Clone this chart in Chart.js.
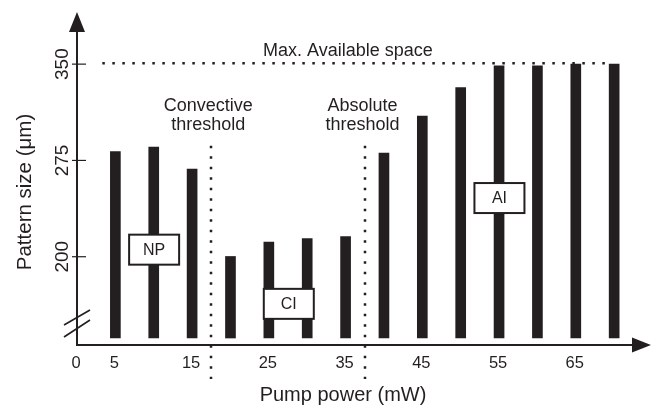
<!DOCTYPE html>
<html>
<head>
<meta charset="utf-8">
<script src="https://cdn.jsdelivr.net/npm/chart.js@4.4.1/dist/chart.umd.min.js"></script>
<style>
  html, body { margin: 0; padding: 0; background: #fff; }
  #wrap { width: 657px; height: 405px; position: relative; }
</style>
</head>
<body>
<div id="wrap"><canvas id="chart"></canvas></div>
<script>
// pump power (mW) and measured pattern size (um)
const powers = [5, 10, 15, 20, 25, 30, 35, 40, 45, 50, 55, 60, 65, 70]
const sizes = [281.8, 285.4, 268.2, 200.2, 211.5, 214.1, 215.6, 280.7, 309.6, 331.8, 348.7, 348.7, 350, 350]
const barBase = 136.7

const xTicks = [0, 5, 15, 25, 35, 45, 55, 65]
const yTicks = [200, 275, 350]
const maxSpace = 350
const thresholds = [17.5, 37.5]

const regionLabels = ['NP', 'CI', 'AI']
const regionX = [10.05, 27.6, 55.05]
const regionY = [205.5, 163.3, 245.7]

const ink = '#231f20'
const font = '"Liberation Sans", Arial, Helvetica, sans-serif'

const axesPlugin = {
  id: 'axesPlugin',
  afterDraw(chart) {
    const ctx = chart.ctx
    const xs = chart.scales.x
    const ys = chart.scales.y
    const area = chart.chartArea
    const x0 = xs.getPixelForValue(0)
    const yb = area.bottom

    ctx.save()
    ctx.strokeStyle = ink
    ctx.fillStyle = ink

    // dotted lines
    ctx.lineWidth = 2.5
    ctx.setLineDash([2.5, 7.5])
    ctx.beginPath()
    ctx.moveTo(xs.getPixelForValue(3.3), ys.getPixelForValue(maxSpace) - 1)
    ctx.lineTo(xs.getPixelForValue(69.3), ys.getPixelForValue(maxSpace) - 1)
    ctx.stroke()
    ctx.setLineDash([2.5, 8])
    thresholds.forEach(t => {
      const px = Math.round(xs.getPixelForValue(t))
      ctx.beginPath()
      ctx.moveTo(px, ys.getPixelForValue(286.5))
      ctx.lineTo(px, yb + 34)
      ctx.stroke()
    })
    ctx.setLineDash([])

    // axes
    ctx.lineWidth = 2
    ctx.beginPath()
    ctx.moveTo(x0, yb)
    ctx.lineTo(x0, area.top + 16)
    ctx.moveTo(x0 - 1, yb)
    ctx.lineTo(area.right - 16, yb)
    ctx.stroke()
    // arrow heads
    ctx.beginPath()
    ctx.moveTo(x0, area.top)
    ctx.lineTo(x0 - 8, area.top + 20)
    ctx.lineTo(x0 + 8, area.top + 20)
    ctx.closePath()
    ctx.fill()
    ctx.beginPath()
    ctx.moveTo(area.right, yb)
    ctx.lineTo(area.right - 19, yb - 7.5)
    ctx.lineTo(area.right - 19, yb + 7.5)
    ctx.closePath()
    ctx.fill()

    // axis break
    ctx.lineWidth = 1.6
    ctx.beginPath()
    ctx.moveTo(x0 - 13, yb - 20)
    ctx.lineTo(x0 + 13, yb - 35)
    ctx.moveTo(x0 - 13, yb - 8)
    ctx.lineTo(x0 + 13, yb - 25)
    ctx.stroke()

    // y ticks
    ctx.lineWidth = 1.2
    ctx.font = '19px ' + font
    ctx.textAlign = 'center'
    ctx.textBaseline = 'middle'
    yTicks.forEach(v => {
      const py = ys.getPixelForValue(v)
      ctx.beginPath()
      ctx.moveTo(x0 - 5, py)
      ctx.lineTo(x0 + 9, py)
      ctx.stroke()
      ctx.save()
      ctx.translate(x0 - 14, py)
      ctx.rotate(-Math.PI / 2)
      ctx.fillText(String(v), 0, 0)
      ctx.restore()
    })

    // x tick labels
    ctx.font = '16.5px ' + font
    xTicks.forEach(v => {
      ctx.fillText(String(v), xs.getPixelForValue(v) - 1, yb + 18)
    })

    // axis titles
    ctx.font = '20px ' + font
    ctx.fillText('Pump power (mW)', 343, yb + 50)
    ctx.save()
    ctx.translate(25, 192)
    ctx.rotate(-Math.PI / 2)
    ctx.font = '20.5px ' + font
    ctx.fillText('Pattern size (\u03bcm)', 0, 0)
    ctx.restore()

    // annotations
    ctx.font = '18px ' + font
    ctx.fillText('Max. Available space', xs.getPixelForValue(35.3), ys.getPixelForValue(360.2))
    ctx.fillText('Convective', xs.getPixelForValue(17.1), ys.getPixelForValue(317.2))
    ctx.fillText('threshold', xs.getPixelForValue(17.1), ys.getPixelForValue(302.3))
    ctx.fillText('Absolute', xs.getPixelForValue(37.2), ys.getPixelForValue(317.2))
    ctx.fillText('threshold', xs.getPixelForValue(37.2), ys.getPixelForValue(302.3))

    // region boxes
    ctx.font = '16px ' + font
    ctx.lineWidth = 2
    regionLabels.forEach((lab, i) => {
      const cx = xs.getPixelForValue(regionX[i])
      const cy = ys.getPixelForValue(regionY[i])
      ctx.fillStyle = '#fff'
      ctx.fillRect(cx - 25, cy - 15, 50, 30)
      ctx.strokeRect(cx - 25, cy - 15, 50, 30)
      ctx.fillStyle = ink
      ctx.fillText(lab, cx, cy + 1)
    })
    ctx.restore()
  }
}

new Chart(document.getElementById('chart'), {
  type: 'bar',
  data: {
    datasets: [{
      data: powers.map((p, i) => ({ x: p, y: sizes[i] })),
      base: barBase,
      backgroundColor: ink,
      barThickness: 10,
      borderWidth: 0
    }]
  },
  options: {
    responsive: true,
    maintainAspectRatio: false,
    animation: false,
    layout: { padding: { left: 77, right: 6, top: 12, bottom: 60 } },
    plugins: {
      legend: { display: false },
      tooltip: { enabled: false }
    },
    scales: {
      x: { type: 'linear', min: 0, max: 74.8, offset: false, display: false },
      y: { min: 131.25, max: 390.6, display: false }
    }
  },
  plugins: [axesPlugin]
})
</script>
</body>
</html>
